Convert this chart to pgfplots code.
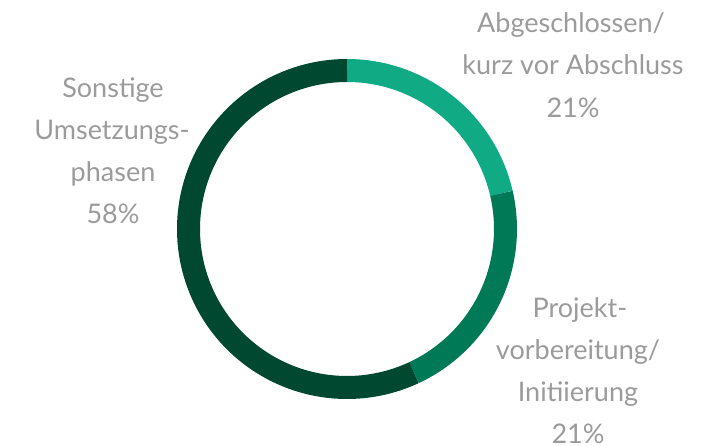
\documentclass[border=0pt]{standalone}
\usepackage{pgfplots}
\pgfplotsset{compat=1.18}
\usepgfplotslibrary{polar}
\usepackage{fontspec}
\setmainfont{Lato}
\definecolor{cLight}{RGB}{16,170,133}
\definecolor{cMid}{RGB}{0,121,87}
\definecolor{cDark}{RGB}{0,72,48}
\definecolor{labelgray}{RGB}{155,155,155}
\begin{document}
\begin{tikzpicture}[x=1pt,y=1pt]
\useasboundingbox (0,0) rectangle (713,446);
% shares: 21.4 %, 21.6 %, 57.0 % (clockwise from 12 o'clock)
\begin{polaraxis}[
  at={(347pt,217pt)}, anchor=origin,
  width=317pt, height=317pt, scale only axis,
  ymin=0, ymax=1, hide axis, clip=false,
]
\addplot[draw=cLight, line width=23pt, domain=90:13, samples=80, no markers] (x,1);
\addplot[draw=cMid, line width=23pt, domain=13:-65, samples=80, no markers] (x,1);
\addplot[draw=cDark, line width=23pt, domain=-65:-270, samples=200, no markers] (x,1);
\end{polaraxis}
\begin{scope}[every node/.style={text=labelgray, font=\fontsize{27}{30}\selectfont, anchor=base, inner sep=0pt}]
\node at (571,446-33) {Abgeschlossen/};
\node at (573,446-75) {kurz vor Abschluss};
\node at (573,446-118) {21\%};
\node at (113,446-98) {Sonstige};
\node at (112,446-140) {Umsetzungs-};
\node at (113,446-182) {phasen};
\node at (113,446-224) {58\%};
\node at (580,446-318) {Projekt-};
\node at (578,446-360) {vorbereitung/};
\node at (578,446-402) {Initiierung};
\node at (578,446-444) {21\%};
\end{scope}
\end{tikzpicture}
\end{document}
